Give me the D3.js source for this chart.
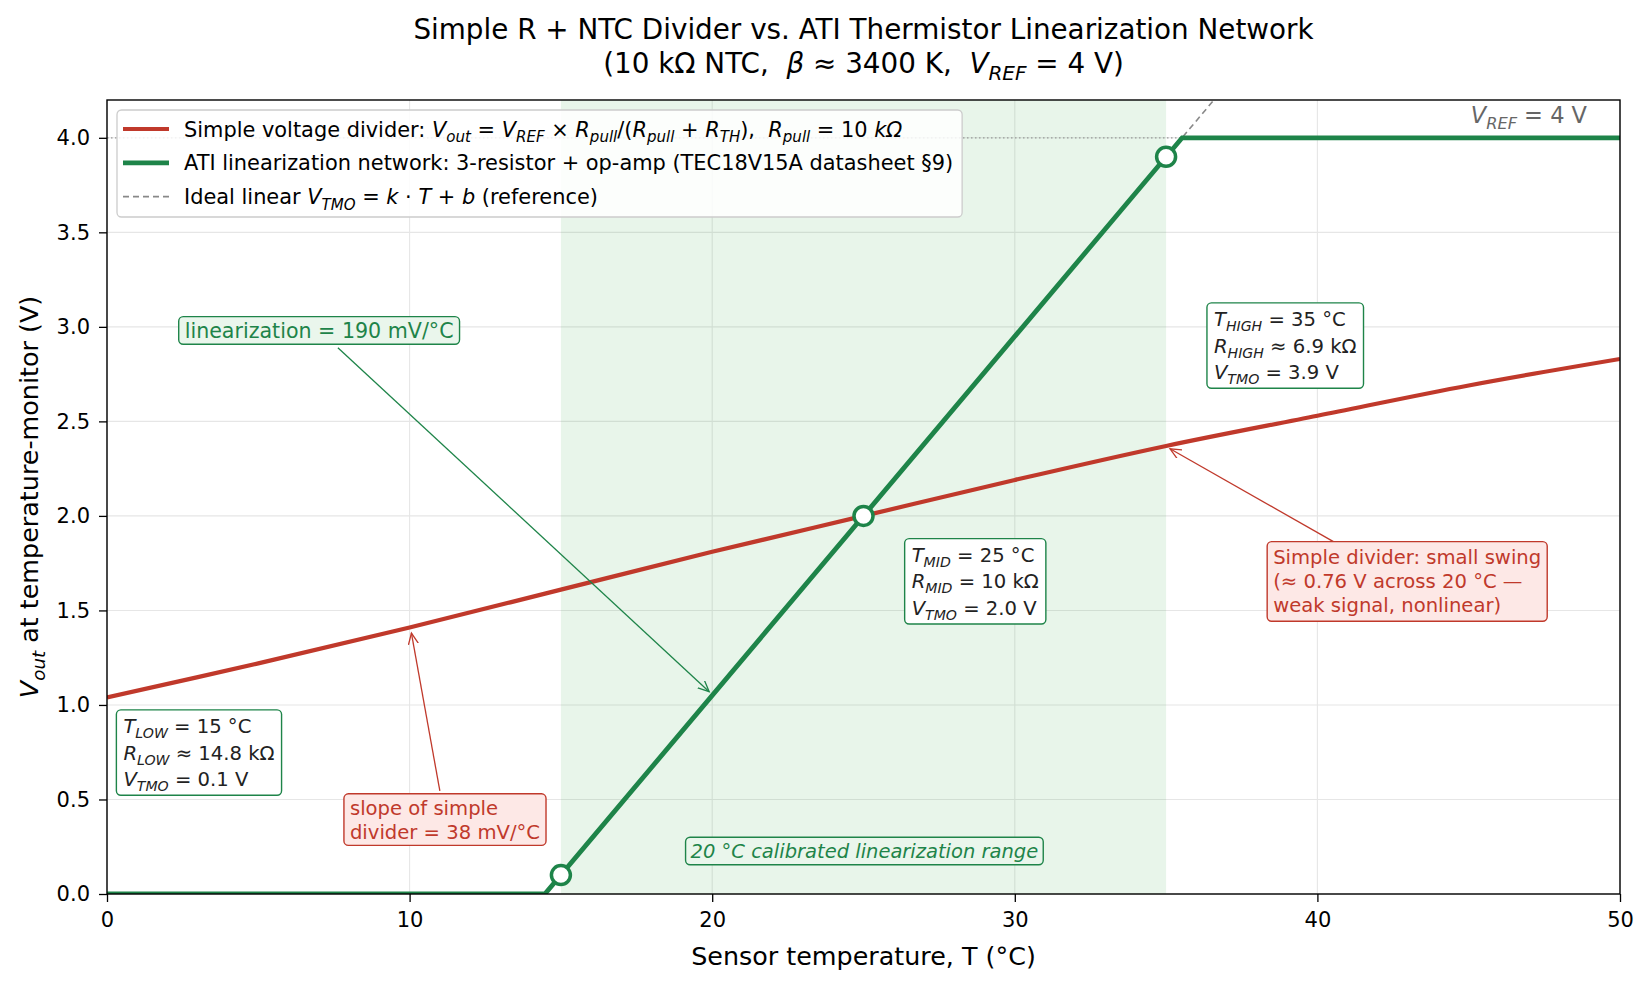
<!DOCTYPE html>
<html>
<meta charset="utf-8">
<head>
    <script src="https://cdnjs.cloudflare.com/ajax/libs/d3/7.8.5/d3.min.js"></script>
    <style>
        body { margin: 0; background: #fff; }
        text { white-space: pre; }
    </style>
</head>
<body>
<script>
// ---- data ----
const tempC   = [0, 5, 10, 15, 20, 25, 30, 35, 40, 45, 50];
const simpleV = [1.04, 1.22, 1.41, 1.61, 1.81, 2.00, 2.19, 2.37, 2.53, 2.69, 2.83];
const atiT    = [0, 14.47, 35.53, 50];
const atiV    = [0, 0, 4, 4];
const idealT  = [0, 50];
const idealV  = [-2.75, 6.75];
const calT    = [15, 25, 35];
const calV    = [0.1, 2.0, 3.9];
const rangeT  = [15, 35];
const vRef    = 4;
const xTicks  = [0, 10, 20, 30, 40, 50];
const yTicks  = [0, 0.5, 1.0, 1.5, 2.0, 2.5, 3.0, 3.5, 4.0];

const W = 1650, H = 984;
const margin = {top: 100, right: 30, bottom: 90, left: 107};
const red = "#c0392b", green = "#1e8449";

const svg = d3.select("body").append("svg")
    .attr("width", W).attr("height", H)
    .style("font-family", "'DejaVu Sans', sans-serif");

const x = d3.scaleLinear().domain([0, 50]).range([margin.left, W - margin.right]);
const y = d3.scaleLinear().domain([0, 4.2]).range([H - margin.bottom, margin.top]);
const cx = (x(0) + x(50)) / 2;

const defs = svg.append("defs");
defs.append("clipPath").attr("id", "plot")
    .append("rect")
    .attr("x", x(0)).attr("y", y(4.2))
    .attr("width", x(50) - x(0)).attr("height", y(0) - y(4.2));

["red", "green"].forEach(name => {
    const c = name === "red" ? red : green;
    defs.append("marker")
        .attr("id", "arr-" + name)
        .attr("markerUnits", "userSpaceOnUse")
        .attr("markerWidth", 13).attr("markerHeight", 11)
        .attr("refX", 11).attr("refY", 5).attr("orient", "auto")
        .append("path").attr("d", "M0,0 L11,5 L0,10")
        .attr("fill", "none").attr("stroke", c).attr("stroke-width", 1.3);
});

// rich text: plain strings, or [text, flags] with i = italic, s = subscript
function rich(parent, px, py, parts, size, color, anchor) {
    const t = parent.append("text")
        .attr("x", px).attr("y", py)
        .attr("font-size", size).attr("fill", color)
        .attr("text-anchor", anchor || "start");
    const sh = size * 0.26;
    let down = false;
    parts.forEach(p => {
        const [s, f] = typeof p === "string" ? [p, ""] : p;
        const ts = t.append("tspan").text(s);
        if (f.includes("i") || f.includes("s")) ts.attr("font-style", "italic");
        if (f.includes("s")) {
            ts.attr("font-size", size * 0.72);
            if (!down) { ts.attr("dy", sh); down = true; }
        } else if (down) {
            ts.attr("dy", -sh); down = false;
        }
    });
    return t;
}

// grid
const grid = svg.append("g");
grid.selectAll(".gx").data(xTicks).enter().append("line")
    .attr("x1", d => x(d)).attr("x2", d => x(d))
    .attr("y1", y(0)).attr("y2", y(4.2))
    .attr("stroke", "#e6e6e6").attr("stroke-width", 1.1);
grid.selectAll(".gy").data(yTicks).enter().append("line")
    .attr("x1", x(0)).attr("x2", x(50))
    .attr("y1", d => y(d)).attr("y2", d => y(d))
    .attr("stroke", "#e6e6e6").attr("stroke-width", 1.1);

// calibrated range shading
svg.append("rect")
    .attr("x", x(rangeT[0])).attr("width", x(rangeT[1]) - x(rangeT[0]))
    .attr("y", y(4.2)).attr("height", y(0) - y(4.2))
    .attr("fill", "#2ea043").attr("fill-opacity", 0.11);

const plot = svg.append("g").attr("clip-path", "url(#plot)");

// V_REF dotted
plot.append("line")
    .attr("x1", x(0)).attr("x2", x(50))
    .attr("y1", y(vRef)).attr("y2", y(vRef))
    .attr("stroke", "#999").attr("stroke-width", 1.3)
    .attr("stroke-dasharray", "1.5,2.5");

// ideal linear reference
plot.append("path")
    .datum(idealT.map((t, i) => [t, idealV[i]]))
    .attr("d", d3.line().x(d => x(d[0])).y(d => y(d[1])))
    .attr("fill", "none").attr("stroke", "#888").attr("stroke-width", 1.6)
    .attr("stroke-dasharray", "6,4");

// simple divider
plot.append("path")
    .datum(tempC.map((t, i) => [t, simpleV[i]]))
    .attr("d", d3.line().x(d => x(d[0])).y(d => y(d[1])).curve(d3.curveCatmullRom))
    .attr("fill", "none").attr("stroke", red).attr("stroke-width", 4.2);

// ATI network
plot.append("path")
    .datum(atiT.map((t, i) => [t, atiV[i]]))
    .attr("d", d3.line().x(d => x(d[0])).y(d => y(d[1])))
    .attr("fill", "none").attr("stroke", green).attr("stroke-width", 4.8);

// calibration points
svg.selectAll(".cal").data(calT).enter().append("circle")
    .attr("cx", d => x(d)).attr("cy", (d, i) => y(calV[i]))
    .attr("r", 9.5).attr("fill", "#fff")
    .attr("stroke", green).attr("stroke-width", 3.5);

// axes
const xAxis = svg.append("g")
    .attr("transform", `translate(0,${y(0)})`)
    .call(d3.axisBottom(x).tickValues(xTicks).tickFormat(d3.format("d")).tickSize(8).tickPadding(10));
const yAxis = svg.append("g")
    .attr("transform", `translate(${x(0)},0)`)
    .call(d3.axisLeft(y).tickValues(yTicks).tickFormat(d3.format(".1f")).tickSize(8).tickPadding(9));
[xAxis, yAxis].forEach(a => {
    a.select(".domain").remove();
    a.selectAll("text").attr("font-size", 21).attr("fill", "#000")
        .attr("font-family", "'DejaVu Sans', sans-serif");
    a.selectAll("line").attr("stroke", "#000").attr("stroke-width", 1.3);
});

svg.append("rect")
    .attr("x", x(0)).attr("y", y(4.2))
    .attr("width", x(50) - x(0)).attr("height", y(0) - y(4.2))
    .attr("fill", "none").attr("stroke", "#000").attr("stroke-width", 1.4);

// axis labels
svg.append("text")
    .attr("x", cx).attr("y", 965)
    .attr("text-anchor", "middle").attr("font-size", 25.4)
    .text("Sensor temperature, T (°C)");
rich(svg.append("g").attr("transform", `translate(38,${(y(0) + y(4.2)) / 2}) rotate(-90)`),
    0, 0, [["V", "i"], ["out", "s"], " at temperature-monitor (V)"], 25.4, "#000", "middle");

// title
svg.append("text")
    .attr("x", cx).attr("y", 39)
    .attr("text-anchor", "middle").attr("font-size", 27.8)
    .text("Simple R + NTC Divider vs. ATI Thermistor Linearization Network");
rich(svg, cx, 73,
    ["(10 kΩ NTC,  ", ["β", "i"], " ≈ 3400 K,  ", ["V", "i"], ["REF", "s"], " = 4 V)"],
    27.8, "#000", "middle");

// V_REF label
rich(svg, x(50) - 33, y(4.2) + 23, [["V", "i"], ["REF", "s"], " = 4 V"], 22.5, "#666", "end");

// boxed annotations
function box(lines, bx, by, o) {
    const g = svg.append("g");
    const rect = g.append("rect");
    const size = o.size, lh = o.lh, px = o.px || 6, pv = o.pv || 4;
    const tx = o.anchor === "middle" ? bx : bx + px;
    const texts = lines.map((parts, i) => {
        const t = rich(g, tx, by + pv + size * 0.86 + i * lh, parts, size, o.color, o.anchor);
        if (o.italic) t.attr("font-style", "italic");
        return t;
    });
    let x0 = Infinity, x1 = -Infinity;
    texts.forEach(t => {
        const b = t.node().getBBox();
        x0 = Math.min(x0, b.x); x1 = Math.max(x1, b.x + b.width);
    });
    rect.attr("x", x0 - px).attr("y", by)
        .attr("width", x1 - x0 + 2 * px)
        .attr("height", (lines.length - 1) * lh + size + 2 * pv)
        .attr("rx", 4.5)
        .attr("fill", o.fill).attr("stroke", o.stroke).attr("stroke-width", 1.4);
}

function arrow(from, to, c) {
    svg.append("line")
        .attr("x1", x(from[0])).attr("y1", y(from[1]))
        .attr("x2", x(to[0])).attr("y2", y(to[1]))
        .attr("stroke", c === "red" ? red : green).attr("stroke-width", 1.3)
        .attr("marker-end", `url(#arr-${c})`);
}

arrow([7.63, 2.89], [19.9, 1.07], "green");
arrow([11.0, 0.545], [10.06, 1.38], "red");
arrow([40.53, 1.864], [35.13, 2.355], "red");

box([["linearization = 190 mV/°C"]], x(2.37), y(3.054),
    {color: green, fill: "#eaf6ec", stroke: green, size: 20.6, lh: 25, px: 6, pv: 3.5});
box([["slope of simple"], ["divider = 38 mV/°C"]], x(7.83), y(0.53),
    {color: red, fill: "#fde8e6", stroke: red, size: 19.6, lh: 24, px: 6, pv: 4});
box([["Simple divider: small swing"], ["(≈ 0.76 V across 20 °C —"], ["weak signal, nonlinear)"]],
    x(38.34), y(1.864),
    {color: red, fill: "#fde8e6", stroke: red, size: 19.6, lh: 24, px: 6, pv: 6});
box([["20 °C calibrated linearization range"]], x(25.03), y(0.30),
    {color: green, fill: "#eaf6ec", stroke: green, size: 19.5, lh: 25, px: 5, pv: 4, anchor: "middle", italic: true});

const dark = "#222";
const infoStyle = {color: dark, fill: "#fff", stroke: green, size: 19.6, lh: 26.4, px: 7, pv: 6.5};
box([[["T", "i"], ["LOW", "s"], " = 15 °C"],
     [["R", "i"], ["LOW", "s"], " ≈ 14.8 kΩ"],
     [["V", "i"], ["TMO", "s"], " = 0.1 V"]],
    x(0.31), y(0.974), infoStyle);
box([[["T", "i"], ["MID", "s"], " = 25 °C"],
     [["R", "i"], ["MID", "s"], " = 10 kΩ"],
     [["V", "i"], ["TMO", "s"], " = 2.0 V"]],
    x(26.36), y(1.88), infoStyle);
box([[["T", "i"], ["HIGH", "s"], " = 35 °C"],
     [["R", "i"], ["HIGH", "s"], " ≈ 6.9 kΩ"],
     [["V", "i"], ["TMO", "s"], " = 3.9 V"]],
    x(36.35), y(3.127), infoStyle);

// legend
const lg = svg.append("g");
const lgRect = lg.append("rect");
const legendItems = [
    {c: red, w: 4.2, dash: null, parts: ["Simple voltage divider: ", ["V", "i"], ["out", "s"], " = ", ["V", "i"], ["REF", "s"],
        " × ", ["R", "i"], ["pull", "s"], "/(", ["R", "i"], ["pull", "s"], " + ", ["R", "i"], ["TH", "s"], "),  ",
        ["R", "i"], ["pull", "s"], " = 10 ", ["kΩ", "i"]]},
    {c: green, w: 4.8, dash: null, parts: ["ATI linearization network: 3-resistor + op-amp (TEC18V15A datasheet §9)"]},
    {c: "#888", w: 1.6, dash: "6,4", parts: ["Ideal linear ", ["V", "i"], ["TMO", "s"], " = ", ["k", "i"], " · ",
        ["T", "i"], " + ", ["b", "i"], " (reference)"]}
];
let lgRight = 0;
legendItems.forEach((d, i) => {
    const ly = 129 + i * 33.8;
    lg.append("line").attr("x1", 123).attr("x2", 169).attr("y1", ly).attr("y2", ly)
        .attr("stroke", d.c).attr("stroke-width", d.w).attr("stroke-dasharray", d.dash);
    const t = rich(lg, 184, ly + 7.5, d.parts, 20.9, "#000");
    const b = t.node().getBBox();
    lgRight = Math.max(lgRight, b.x + b.width);
});
lgRect.attr("x", 117).attr("y", 110).attr("width", lgRight + 9 - 117).attr("height", 107)
    .attr("rx", 4.5).attr("fill", "#fff").attr("fill-opacity", 0.85)
    .attr("stroke", "#ccc").attr("stroke-width", 1.3);
</script>
</body>
</html>
